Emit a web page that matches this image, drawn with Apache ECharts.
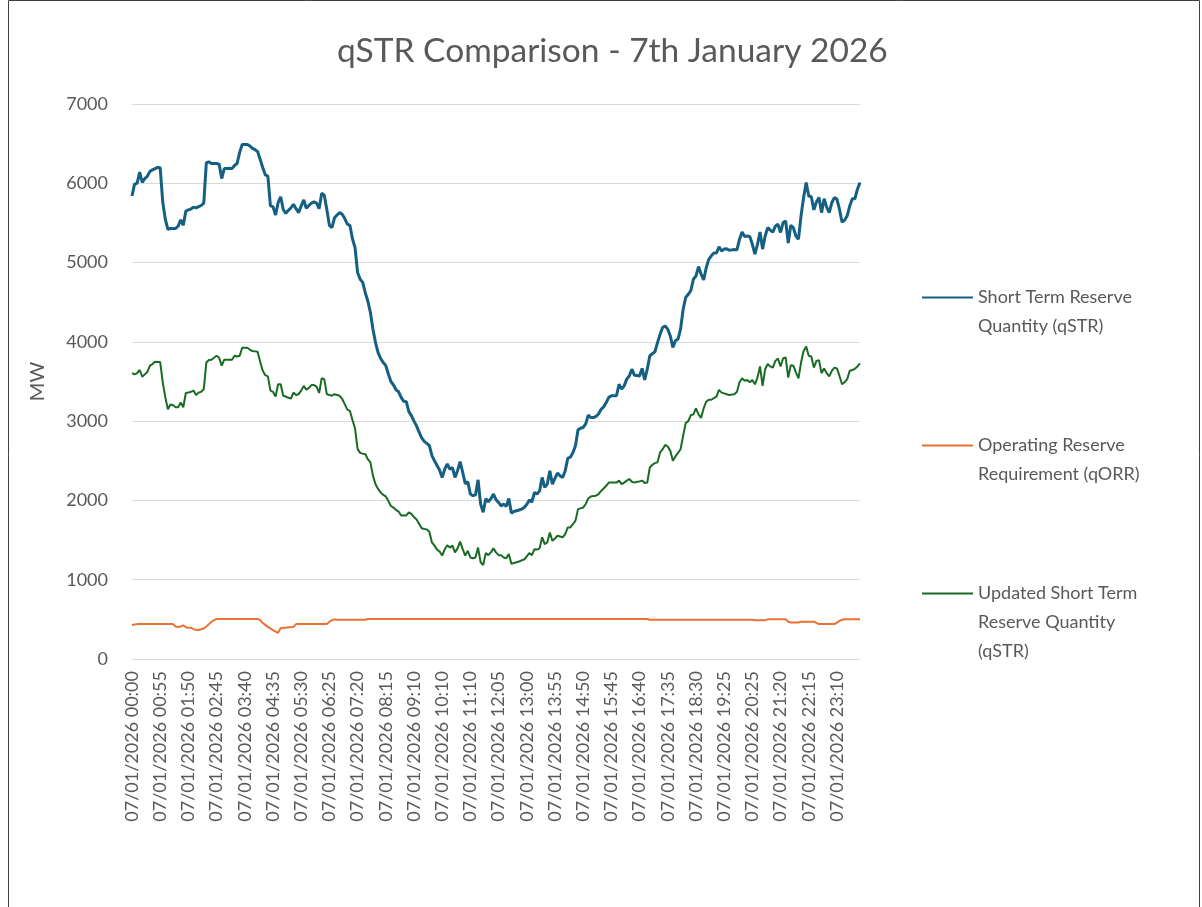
<!DOCTYPE html>
<html>
<head>
<meta charset="utf-8">
<title>qSTR Comparison</title>
<script src="https://cdn.jsdelivr.net/npm/echarts@6/dist/echarts.min.js"></script>
<style>
  html, body { margin: 0; padding: 0; background: #fff; }
  #chart { width: 1202px; height: 907px; }
</style>
</head>
<body>
<div id="chart"></div>
<script>
// 5-minute settlement periods for 07/01/2026 (three periods absent in the source data)
var missingTimes = ['09:35', '10:40', '19:55'];
var categories = [];
for (var m = 0; m < 1440; m += 5) {
    var hh = ('0' + Math.floor(m / 60)).slice(-2);
    var mm = ('0' + (m % 60)).slice(-2);
    var t = hh + ':' + mm;
    if (missingTimes.indexOf(t) === -1) {
        categories.push('07/01/2026 ' + t);
    }
}

// Short Term Reserve Quantity (qSTR), MW
var qstr = [
    5840, 5990, 6000, 6140, 6010, 6060, 6090, 6150, 6170, 6185, 6200, 6195,
    5760, 5545, 5420, 5430, 5430, 5430, 5460, 5540, 5470, 5650, 5665, 5675,
    5700, 5690, 5705, 5720, 5750, 6260, 6270, 6250, 6250, 6250, 6240, 6060,
    6185, 6185, 6190, 6185, 6225, 6250, 6390, 6490, 6490, 6490, 6470, 6440,
    6425, 6400, 6300, 6200, 6105, 6090, 5715, 5705, 5600, 5755, 5830,
    5670, 5620, 5660, 5690, 5735, 5680, 5630, 5715, 5790, 5685, 5720, 5750,
    5765, 5750, 5680, 5875, 5850, 5670, 5470, 5440, 5565, 5600, 5630, 5610,
    5555, 5485, 5470, 5300, 5190, 4875, 4790, 4750, 4620, 4515, 4370, 4160,
    3990, 3865, 3790, 3740, 3700, 3595, 3500, 3455, 3395, 3370, 3300, 3250,
    3245, 3120, 3070, 3000, 2940, 2860, 2790, 2745, 2720, 2690, 2565, 2500,
    2440, 2380, 2290, 2395, 2460, 2395, 2415, 2290, 2375, 2490, 2355, 2210,
    2235, 2080, 2060, 2070, 2260, 1955, 1850, 2020, 1985, 2020, 2080, 2010,
    1975, 1930, 1955, 1925, 2025, 1840, 1860, 1870,
    1880, 1890, 1910, 1950, 2005, 1980, 2100, 2080, 2120, 2290, 2165, 2205,
    2375, 2205, 2280, 2345, 2310, 2290, 2375, 2530, 2545, 2600, 2690, 2890,
    2910, 2920, 2965, 3075, 3045, 3045, 3060, 3090, 3150, 3180, 3235, 3300,
    3320, 3320, 3320, 3465, 3405, 3445, 3530, 3570, 3655, 3580, 3575, 3570,
    3665, 3520, 3655, 3825, 3850, 3875, 3990, 4095, 4180, 4200, 4160, 4075,
    3930, 4015, 4035, 4160, 4410, 4560, 4600, 4645, 4790, 4830, 4950, 4855,
    4780, 4935, 5040, 5085, 5120, 5120, 5200, 5145, 5170, 5175, 5155, 5160,
    5165, 5160, 5295, 5385, 5330, 5335, 5330, 5230, 5105, 5230, 5385, 5170, 5335, 5440, 5410,
    5385, 5460, 5485, 5380, 5505, 5525, 5245, 5470, 5440, 5335, 5295, 5590,
    5820, 6010, 5840, 5830, 5665, 5765, 5820, 5630, 5805, 5700, 5630, 5755,
    5820, 5800, 5670, 5510, 5535, 5590, 5715, 5805, 5805, 5925, 6010
];

// Operating Reserve Requirement (qORR), MW
var qorr = [
    430, 435, 440, 440, 440, 440, 440, 440, 440, 440, 440, 440,
    440, 440, 440, 440, 440, 410, 405, 410, 425, 400, 395, 395,
    375, 370, 365, 375, 385, 410, 440, 470, 490, 505, 505, 505,
    505, 505, 505, 505, 505, 505, 505, 505, 505, 505, 505, 505,
    505, 505, 490, 455, 430, 405, 385, 365, 345, 330, 390,
    395, 395, 400, 400, 405, 440, 440, 440, 440, 440, 440, 440,
    440, 440, 440, 440, 440, 440, 470, 490, 500, 495, 495, 495,
    495, 495, 495, 495, 495, 495, 495, 495, 495, 505, 505, 505,
    505, 505, 505, 505, 505, 505, 505, 505, 505, 505, 505, 505,
    505, 505, 505, 505, 505, 505, 505, 505, 505, 505, 505, 505,
    505, 505, 505, 505, 505, 505, 505, 505, 505, 505, 505, 505,
    505, 505, 505, 505, 505, 505, 505, 505, 505, 505, 505, 505,
    505, 505, 505, 505, 505, 505, 505, 505,
    505, 505, 505, 505, 505, 505, 505, 505, 505, 505, 505, 505,
    505, 505, 505, 505, 505, 505, 505, 505, 505, 505, 505, 505,
    505, 505, 505, 505, 505, 505, 505, 505, 505, 505, 505, 505,
    505, 505, 505, 505, 505, 505, 505, 505, 505, 505, 505, 505,
    505, 505, 505, 495, 495, 495, 495, 495, 495, 495, 495, 495,
    495, 495, 495, 495, 495, 495, 495, 495, 495, 495, 495, 495,
    495, 495, 495, 495, 495, 495, 495, 495, 495, 495, 495, 495,
    495, 495, 495, 495, 495, 495, 495, 495, 490, 490, 490, 490, 490, 500, 500,
    500, 500, 500, 500, 500, 500, 470, 460, 460, 460, 460, 470,
    470, 470, 470, 470, 470, 455, 440, 440, 440, 440, 440, 440,
    440, 460, 480, 495, 500, 500, 500, 500, 500, 500, 500
];

// Updated Short Term Reserve Quantity (qSTR), MW
var qstrUpdated = [
    3605, 3590, 3605, 3645, 3560, 3590, 3620, 3700, 3720, 3750, 3745, 3745,
    3490, 3300, 3150, 3210, 3200, 3175, 3175, 3235, 3175, 3355, 3360, 3370,
    3385, 3330, 3360, 3370, 3405, 3740, 3770, 3775, 3800, 3825, 3800, 3700,
    3775, 3775, 3775, 3775, 3825, 3815, 3825, 3925, 3925, 3925, 3900, 3885,
    3880, 3875, 3750, 3635, 3580, 3565, 3385, 3370, 3310, 3465, 3465,
    3320, 3310, 3295, 3285, 3360, 3330, 3340, 3385, 3445, 3395, 3420, 3455,
    3455, 3435, 3355, 3540, 3530, 3340, 3330, 3320, 3340, 3330, 3320, 3280,
    3215, 3145, 3130, 3015, 2910, 2650, 2600, 2590, 2585, 2520, 2480, 2310,
    2205, 2145, 2100, 2070, 2050, 1995, 1930, 1910, 1880, 1860, 1810, 1810,
    1810, 1850, 1830, 1790, 1760, 1705, 1650, 1640, 1635, 1605, 1470, 1430,
    1380, 1355, 1305, 1385, 1435, 1405, 1430, 1345, 1395, 1480, 1385, 1305,
    1365, 1280, 1270, 1280, 1405, 1220, 1185, 1335, 1310, 1345, 1395, 1345,
    1310, 1310, 1280, 1270, 1325, 1200, 1210, 1220,
    1230, 1245, 1255, 1295, 1335, 1310, 1385, 1380, 1395, 1535, 1450, 1470,
    1595, 1490, 1520, 1555, 1545, 1535, 1575, 1660, 1660, 1700, 1745, 1890,
    1900, 1910, 1955, 2025, 2050, 2055, 2060, 2080, 2120, 2150, 2185, 2225,
    2225, 2225, 2225, 2250, 2205, 2225, 2250, 2270, 2235, 2225, 2235, 2240,
    2250, 2220, 2225, 2415, 2450, 2470, 2480, 2605, 2645, 2700, 2680, 2625,
    2500, 2555, 2600, 2645, 2815, 2975, 3000, 3075, 3085, 3160, 3085, 3040,
    3160, 3245, 3270, 3270, 3290, 3310, 3395, 3360, 3350, 3340, 3330, 3335,
    3340, 3370, 3490, 3540, 3510, 3520, 3490, 3520, 3465, 3550, 3690, 3445, 3655, 3720, 3690,
    3675, 3760, 3790, 3690, 3790, 3805, 3550, 3705, 3700, 3615, 3540, 3740,
    3885, 3940, 3825, 3815, 3675, 3760, 3770, 3605, 3665, 3605, 3565, 3635,
    3675, 3665, 3570, 3465, 3490, 3530, 3635, 3645, 3660, 3690, 3730
];

var yTicks = { min: 0, max: 7000, step: 1000 };

var seriesNames = [
    'Short Term Reserve Quantity (qSTR)',
    'Operating Reserve Requirement (qORR)',
    'Updated Short Term Reserve Quantity (qSTR)'
];
// how each legend entry wraps
var legendLines = {
    'Short Term Reserve Quantity (qSTR)': ['Short Term Reserve', 'Quantity (qSTR)'],
    'Operating Reserve Requirement (qORR)': ['Operating Reserve', 'Requirement (qORR)'],
    'Updated Short Term Reserve Quantity (qSTR)': ['Updated Short Term', 'Reserve Quantity', '(qSTR)']
};

var textColor = '#595959';
var gridColor = '#d9d9d9';
var font = 'Lato, "Open Sans", sans-serif';

var chart = echarts.init(document.getElementById('chart'), null, { renderer: 'canvas' });

var option = {
    backgroundColor: '#fff',
    animation: false,
    title: {
        text: 'qSTR Comparison - 7th January 2026',
        left: 332,
        top: 29,
        textStyle: { color: textColor, fontSize: 33.5, fontWeight: 'normal', fontFamily: font }
    },
    graphic: [{
        type: 'rect',
        shape: { x: 8.5, y: 0.5, width: 1191, height: 930 },
        style: { fill: 'none', stroke: '#404040', lineWidth: 1 },
        silent: true
    }],
    legend: {
        orient: 'vertical',
        left: 916,
        top: 220,
        itemWidth: 51,
        itemHeight: 14,
        itemGap: 3,
        data: seriesNames,
        itemStyle: { opacity: 0 },
        formatter: function (name) {
            var lines = legendLines[name].slice();
            while (lines.length < 3) lines.push(' ');
            return ' \n \n' + lines.join('\n');
        },
        textStyle: { color: textColor, fontSize: 18, lineHeight: 29, fontFamily: font }
    },
    grid: {
        left: 132,
        right: 342,
        top: 104,
        bottom: 248,
        containLabel: false
    },
    xAxis: {
        type: 'category',
        data: categories,
        boundaryGap: false,
        axisLine: { show: true, lineStyle: { color: gridColor, width: 1 } },
        axisTick: { show: false },
        axisLabel: {
            interval: 10,
            rotate: 90,
            margin: 12,
            color: textColor,
            fontSize: 18,
            fontFamily: font
        }
    },
    yAxis: {
        type: 'value',
        min: yTicks.min,
        max: yTicks.max,
        interval: yTicks.step,
        name: 'MW',
        nameLocation: 'middle',
        nameRotate: 90,
        nameGap: 84,
        nameTextStyle: { color: textColor, fontSize: 20, fontFamily: font },
        axisLine: { show: false },
        axisTick: { show: false },
        splitLine: { lineStyle: { color: gridColor, width: 1 } },
        axisLabel: {
            color: textColor,
            fontSize: 18,
            margin: 24,
            fontFamily: font,
            formatter: function (v) { return String(v); }
        }
    },
    series: [
        {
            name: seriesNames[0],
            type: 'line',
            data: qstr,
            symbol: 'none',
            itemStyle: { color: '#156082' },
            lineStyle: { color: '#156082', width: 3 }
        },
        {
            name: seriesNames[1],
            type: 'line',
            data: qorr,
            symbol: 'none',
            itemStyle: { color: '#E97132' },
            lineStyle: { color: '#E97132', width: 2 }
        },
        {
            name: seriesNames[2],
            type: 'line',
            data: qstrUpdated,
            symbol: 'none',
            itemStyle: { color: '#196B24' },
            lineStyle: { color: '#196B24', width: 2 }
        }
    ]
};

chart.setOption(option);
</script>
</body>
</html>
